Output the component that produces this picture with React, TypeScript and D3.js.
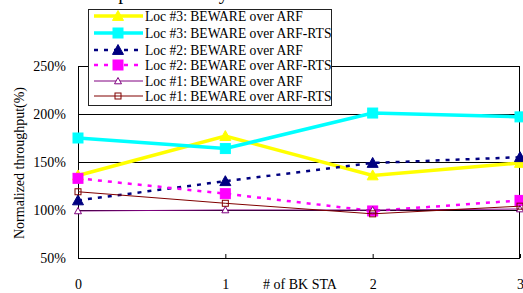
import { useEffect, useRef } from "react";
import * as d3 from "d3";

const xValues = [0, 1, 2, 3];
const yTicks = [50, 100, 150, 200, 250];

const loc3Arf = [136, 177, 136, 149];
const loc3Rts = [175, 164, 201, 197];
const loc2Arf = [110, 130, 149, 155];
const loc2Rts = [133, 117, 99, 110];
const loc1Arf = [99, 100, 100, 101];
const loc1Rts = [119, 107, 96, 104];

const seriesNames = [
  "Loc #3: BEWARE over ARF",
  "Loc #3: BEWARE over ARF-RTS",
  "Loc #2: BEWARE over ARF",
  "Loc #2: BEWARE over ARF-RTS",
  "Loc #1: BEWARE over ARF",
  "Loc #1: BEWARE over ARF-RTS",
];

const FONT = "'Liberation Serif', 'Times New Roman', serif";

export default function App() {
  const svgRef = useRef(null);

  useEffect(() => {
    const width = 523;
    const height = 293;
    const margin = { top: 66, right: 3, bottom: 35, left: 78 };

    const series = [
      { name: seriesNames[0], values: loc3Arf, color: "#ffff00", width: 3.5, dash: null, marker: "tri", size: 11, fill: true },
      { name: seriesNames[1], values: loc3Rts, color: "#00ffff", width: 3.5, dash: null, marker: "sq", size: 10, fill: true },
      { name: seriesNames[2], values: loc2Arf, color: "#000080", width: 2.5, dash: "4,6", marker: "tri", size: 11, fill: true },
      { name: seriesNames[3], values: loc2Rts, color: "#ff00ff", width: 2.5, dash: "4,6", marker: "sq", size: 10, fill: true },
      { name: seriesNames[4], values: loc1Arf, color: "#800080", width: 1, dash: null, marker: "tri", size: 7, fill: false },
      { name: seriesNames[5], values: loc1Rts, color: "#800000", width: 1, dash: null, marker: "sq", size: 6, fill: false },
    ];

    const svg = d3.select(svgRef.current);
    svg.selectAll("*").remove();
    svg.attr("width", width).attr("height", height)
      .style("display", "block")
      .style("position", "absolute")
      .style("left", "0px")
      .style("top", "0px")
      .style("background", "#fff");

    const x = d3.scaleLinear().domain([0, 3]).range([margin.left, width - margin.right]);
    const y = d3.scaleLinear().domain([50, 250]).range([height - margin.bottom, margin.top]);

    // title, cut off at the top edge
    svg.append("text")
      .attr("x", 96)
      .attr("y", -1)
      .attr("font-family", FONT)
      .attr("font-size", 20)
      .text("Improvement by BEWARE");

    // gridlines
    svg.append("g")
      .selectAll("line")
      .data(yTicks)
      .enter()
      .append("line")
      .attr("x1", x(0))
      .attr("x2", x(3))
      .attr("y1", d => Math.round(y(d)) + 0.5)
      .attr("y2", d => Math.round(y(d)) + 0.5)
      .attr("stroke", "#000")
      .attr("stroke-width", 1);

    // frame
    svg.append("rect")
      .attr("x", x(0) + 0.5)
      .attr("y", y(250) + 0.5)
      .attr("width", x(3) - x(0) - 1)
      .attr("height", y(50) - y(250))
      .attr("fill", "none")
      .attr("stroke", "#000")
      .attr("stroke-width", 1);

    // y axis
    const yAxis = svg.append("g")
      .attr("transform", `translate(${x(0)},0)`)
      .call(d3.axisLeft(y).tickValues(yTicks).tickSize(0).tickPadding(12).tickFormat(d => `${d}%`));
    yAxis.attr("font-family", FONT).attr("font-size", 14);
    yAxis.select(".domain").remove();
    yAxis.selectAll("text").attr("fill", "#000");

    // x axis
    const xAxis = svg.append("g")
      .attr("transform", `translate(0,${y(50)})`)
      .call(d3.axisTop(x).tickValues(xValues).tickSize(4).tickFormat(d3.format("d")));
    xAxis.attr("font-family", FONT).attr("font-size", 14);
    xAxis.select(".domain").remove();
    xAxis.selectAll("text").attr("y", 31).attr("fill", "#000");

    svg.append("text")
      .attr("x", 300)
      .attr("y", 289)
      .attr("text-anchor", "middle")
      .attr("font-family", FONT)
      .attr("font-size", 14)
      .text("# of BK STA");

    svg.append("text")
      .attr("transform", `translate(24,163) rotate(-90)`)
      .attr("text-anchor", "middle")
      .attr("font-family", FONT)
      .attr("font-size", 14)
      .text("Normalized throughput(%)");

    const line = d3.line<number>().x((d, i) => x(xValues[i])).y(d => y(d));

    const drawMarker = (g, s, cx, cy) => {
      const r = s.size / 2;
      if (s.marker === "tri") {
        g.append("path")
          .attr("d", `M${cx},${cy - r}L${cx + r},${cy + r * 0.8}L${cx - r},${cy + r * 0.8}Z`)
          .attr("fill", s.fill ? s.color : "#fff")
          .attr("stroke", s.color)
          .attr("stroke-width", 1);
      } else {
        g.append("rect")
          .attr("x", cx - r)
          .attr("y", cy - r)
          .attr("width", s.size)
          .attr("height", s.size)
          .attr("fill", s.fill ? s.color : "none")
          .attr("stroke", s.color)
          .attr("stroke-width", 1);
      }
    };

    series.forEach(s => {
      const g = svg.append("g");
      g.append("path")
        .datum(s.values)
        .attr("d", line)
        .attr("fill", "none")
        .attr("stroke", s.color)
        .attr("stroke-width", s.width)
        .attr("stroke-dasharray", s.dash);
      s.values.forEach((v, i) => drawMarker(g, s, x(xValues[i]), y(v)));
    });

    // legend
    const lg = svg.append("g");
    lg.append("rect")
      .attr("x", 88.5)
      .attr("y", 9.5)
      .attr("width", 243)
      .attr("height", 96)
      .attr("fill", "#fff")
      .attr("stroke", "#222")
      .attr("stroke-width", 1);
    const rowY = [16, 33, 50, 65, 81, 96];
    series.forEach((s, i) => {
      const ry = rowY[i];
      lg.append("line")
        .attr("x1", 94)
        .attr("x2", 143)
        .attr("y1", ry)
        .attr("y2", ry)
        .attr("stroke", s.color)
        .attr("stroke-width", s.width)
        .attr("stroke-dasharray", s.dash);
      drawMarker(lg, s, 118, ry);
      lg.append("text")
        .attr("x", 145)
        .attr("y", ry + 5)
        .attr("font-family", FONT)
        .attr("font-size", 13.6)
        .text(s.name);
    });
  }, []);

  return <svg ref={svgRef}></svg>;
}
